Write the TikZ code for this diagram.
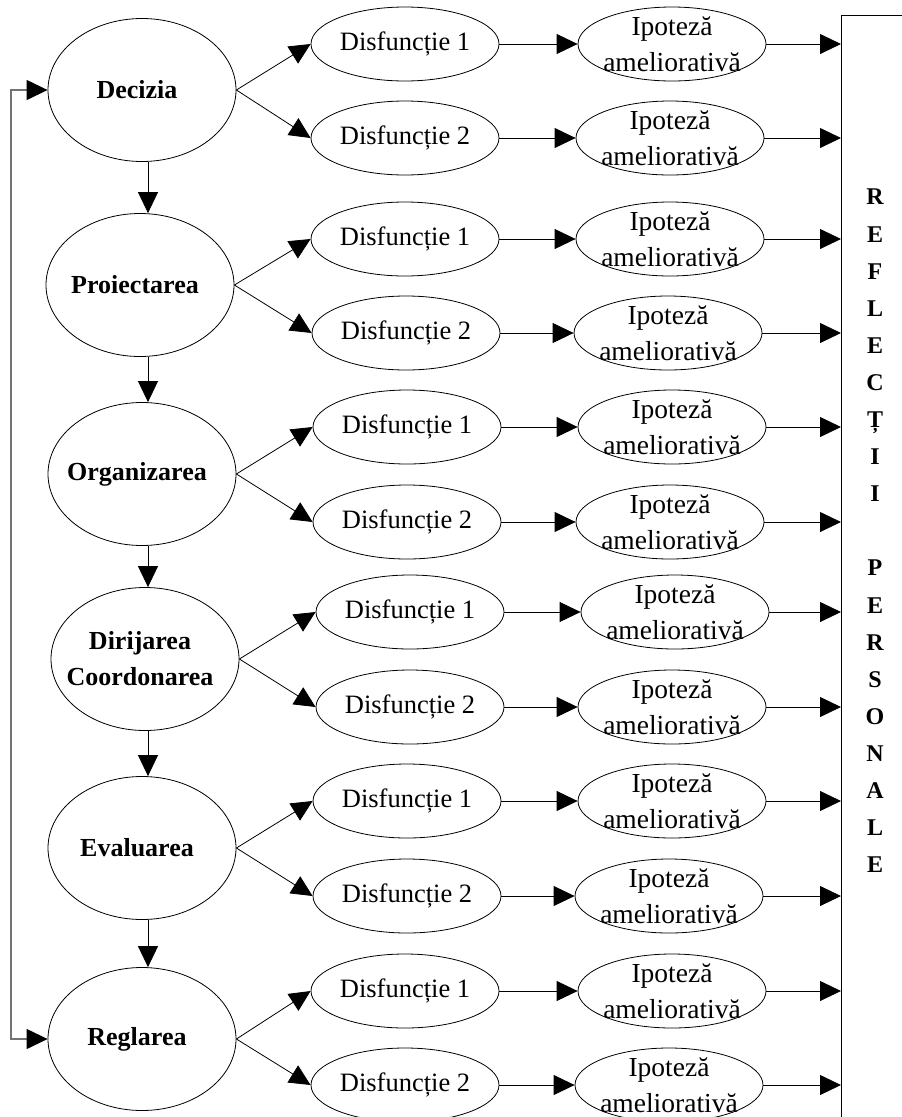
\documentclass[tikz,border=0pt]{standalone}
\usepackage{fontspec}
\setmainfont{Liberation Serif}
\usetikzlibrary{arrows.meta,shapes.geometric}

\begin{document}
\begin{tikzpicture}[>={Triangle[length=21pt,width=20pt]}, x=1pt, y=-1pt, line width=0.8pt,
  big/.style={draw, ellipse, inner sep=0pt, minimum width=188pt, minimum height=143pt},
  bigtxt/.style={font=\fontsize{26}{36}\selectfont\bfseries, align=center, xshift=-5pt},
  dis/.style={draw, ellipse, inner sep=0pt, minimum width=188pt, minimum height=74pt,
    font=\fontsize{26.5}{31}\selectfont},
  ipo/.style={draw, ellipse, inner sep=0pt, minimum width=188pt, minimum height=74pt,
    label={[font=\fontsize{27.5}{36}\selectfont, align=center]center:Ipoteză\\ameliorativă}}]
  \useasboundingbox (0,0) rectangle (902,1117);

  \node[big, label={[bigtxt]center:Decizia}] (dec) at (142,90) {};
  \node[big, label={[bigtxt]center:Proiectarea}] (pro) at (140,285) {};
  \node[big, label={[bigtxt]center:Organizarea}] (org) at (142,474) {};
  \node[big, label={[bigtxt]center:Dirijarea\\Coordonarea}] (dir) at (145,659) {};
  \node[big, label={[bigtxt]center:Evaluarea}] (eva) at (142,848) {};
  \node[big, label={[bigtxt]center:Reglarea}] (reg) at (142,1039) {};

  \node[dis] (d11) at (405,44) {Disfuncție 1};
  \node[dis] (d12) at (405,138) {Disfuncție 2};
  \node[dis] (d21) at (405,239) {Disfuncție 1};
  \node[dis] (d22) at (406,333) {Disfuncție 2};
  \node[dis] (d31) at (407,427) {Disfuncție 1};
  \node[dis] (d32) at (407,522) {Disfuncție 2};
  \node[dis] (d41) at (410,612) {Disfuncție 1};
  \node[dis] (d42) at (410,707) {Disfuncție 2};
  \node[dis] (d51) at (407,801) {Disfuncție 1};
  \node[dis] (d52) at (407,896) {Disfuncție 2};
  \node[dis] (d61) at (405,991) {Disfuncție 1};
  \node[dis] (d62) at (405,1085) {Disfuncție 2};

  \node[ipo] (i11) at (672,44) {};
  \node[ipo] (i12) at (670,138) {};
  \node[ipo] (i21) at (670,239) {};
  \node[ipo] (i22) at (668,333) {};
  \node[ipo] (i31) at (672,427) {};
  \node[ipo] (i32) at (670,522) {};
  \node[ipo] (i41) at (675,612) {};
  \node[ipo] (i42) at (672,707) {};
  \node[ipo] (i51) at (672,801) {};
  \node[ipo] (i52) at (669,896) {};
  \node[ipo] (i61) at (672,991) {};
  \node[ipo] (i62) at (669,1085) {};

  \node[draw, anchor=north west, minimum width=80pt, minimum height=1140pt] (box) at (841,15) {};
  \node[font=\fontsize{24}{37.1}\selectfont\bfseries, align=center] (refl) at (875,531)
    {R\\E\\F\\L\\E\\C\\Ț\\I\\I\\\mbox{}\\P\\E\\R\\S\\O\\N\\A\\L\\E};

  \coordinate (ax) at (148,0);
  \coordinate (fb) at (11,560);

  \draw[->] (dec.south -| ax) -- (pro.north -| ax);
  \draw[->] (pro.south -| ax) -- (org.north -| ax);
  \draw[->] (org.south -| ax) -- (dir.north -| ax);
  \draw[->] (dir.south -| ax) -- (eva.north -| ax);
  \draw[->] (eva.south -| ax) -- (reg.north -| ax);

  \path[->] (dec.east) edge (d11.west) edge (d12.west);
  \path[->] (pro.east) edge (d21.west) edge (d22.west);
  \path[->] (org.east) edge (d31.west) edge (d32.west);
  \path[->] (dir.east) edge (d41.west) edge (d42.west);
  \path[->] (eva.east) edge (d51.west) edge (d52.west);
  \path[->] (reg.east) edge (d61.west) edge (d62.west);

  \draw[->] (d11.east) -- (i11.west);
  \draw[->] (d12.east) -- (i12.west);
  \draw[->] (d21.east) -- (i21.west);
  \draw[->] (d22.east) -- (i22.west);
  \draw[->] (d31.east) -- (i31.west);
  \draw[->] (d32.east) -- (i32.west);
  \draw[->] (d41.east) -- (i41.west);
  \draw[->] (d42.east) -- (i42.west);
  \draw[->] (d51.east) -- (i51.west);
  \draw[->] (d52.east) -- (i52.west);
  \draw[->] (d61.east) -- (i61.west);
  \draw[->] (d62.east) -- (i62.west);

  \draw[->] (i11.east) -- (i11.east -| box.west);
  \draw[->] (i12.east) -- (i12.east -| box.west);
  \draw[->] (i21.east) -- (i21.east -| box.west);
  \draw[->] (i22.east) -- (i22.east -| box.west);
  \draw[->] (i31.east) -- (i31.east -| box.west);
  \draw[->] (i32.east) -- (i32.east -| box.west);
  \draw[->] (i41.east) -- (i41.east -| box.west);
  \draw[->] (i42.east) -- (i42.east -| box.west);
  \draw[->] (i51.east) -- (i51.east -| box.west);
  \draw[->] (i52.east) -- (i52.east -| box.west);
  \draw[->] (i61.east) -- (i61.east -| box.west);
  \draw[->] (i62.east) -- (i62.east -| box.west);

  \draw[black!55, line width=1.2pt,
    {Triangle[length=21pt,width=20pt,color=black]}-{Triangle[length=21pt,width=20pt,color=black]}]
    (dec.west) -| (fb) |- (reg.west);
\end{tikzpicture}
\end{document}
